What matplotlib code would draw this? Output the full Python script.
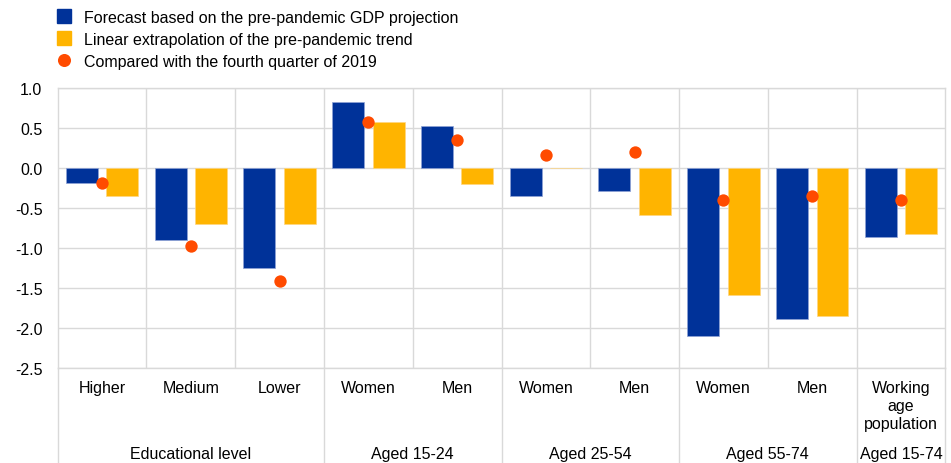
import matplotlib
matplotlib.use("Agg")
import matplotlib.pyplot as plt
from matplotlib.lines import Line2D
import numpy as np

plt.rcParams['font.family'] = ['Liberation Sans', 'DejaVu Sans']
plt.rcParams['font.size'] = 11.5

# 数据
categories = ['Higher', 'Medium', 'Lower', 'Women', 'Men', 'Women', 'Men',
              'Women', 'Men', 'Working\nage\npopulation']
groups = ['Educational level', 'Aged 15-24', 'Aged 25-54', 'Aged 55-74', 'Aged 15-74']
group_sizes = [3, 2, 2, 2, 1]
forecast = [-0.18, -0.90, -1.24, 0.83, 0.53, -0.34, -0.28, -2.10, -1.88, -0.86]
extrapolation = [-0.35, -0.69, -0.69, 0.58, -0.20, 0.01, -0.58, -1.58, -1.84, -0.82]
vs_2019q4 = [-0.18, -0.97, -1.41, 0.58, 0.36, 0.17, 0.20, -0.40, -0.34, -0.40]

legend_labels = ['Forecast based on the pre-pandemic GDP projection',
                 'Linear extrapolation of the pre-pandemic trend',
                 'Compared with the fourth quarter of 2019']

blue = '#003299'
yellow = '#FFB400'
orange = '#FF4B00'
grid_c = '#d9d9d9'

fig = plt.figure(figsize=(9.51, 4.64), dpi=100)
ax = fig.add_axes([0.0607, 0.204, 0.9333, 0.6035])

x = np.arange(len(categories))
bw = 0.36
off = 0.229
ax.bar(x - off, forecast, bw, color=blue, edgecolor='#8fa3d6', linewidth=0.5, zorder=3)
ax.bar(x + off, extrapolation, bw, color=yellow, edgecolor='#ffd680', linewidth=0.5, zorder=3)
ax.plot(x, vs_2019q4, 'o', color=orange, markersize=8.9, markeredgewidth=0, zorder=4)

ax.set_xlim(-0.5, len(categories) - 0.5)
ax.set_ylim(-2.5, 1.0)
ax.set_yticks(np.arange(-2.5, 1.01, 0.5))
ax.set_yticklabels(['%.1f' % v for v in np.arange(-2.5, 1.01, 0.5)])
ax.tick_params(axis='y', length=0, pad=11)
ax.set_xticks([])
ax.yaxis.grid(True, color=grid_c, linewidth=1, zorder=0)
for b in np.arange(0.5, len(categories) - 0.5, 1):
    ax.axvline(b, color=grid_c, linewidth=1, zorder=0)
for s in ax.spines.values():
    s.set_color(grid_c)
    s.set_linewidth(1)

# 类别标签
trans = ax.get_xaxis_transform()
for xi, lab in zip(x, categories):
    ax.text(xi, -0.040, lab, transform=trans, ha='center', va='top', linespacing=1.26)

# 分组标签与分隔线
start = -0.5
bounds = [start]
for name, n in zip(groups, group_sizes):
    ax.text(start + n / 2, -0.303, name, transform=trans, ha='center', va='center')
    start += n
    bounds.append(start)
for b in bounds:
    ax.add_line(Line2D([b, b], [0, -0.35], transform=trans, color=grid_c,
                       linewidth=1, clip_on=False))

# 图例
handles = [Line2D([], [], marker='s', linestyle='none', color=blue, markersize=9.4),
           Line2D([], [], marker='s', linestyle='none', color=yellow, markersize=9.4),
           Line2D([], [], marker='o', linestyle='none', color=orange, markersize=9.4,
                  markeredgewidth=0)]
fig.legend(handles, legend_labels, loc='upper left', bbox_to_anchor=(57 / 951, 1 - 10.5 / 464),
           frameon=False, borderpad=0, borderaxespad=0, handlelength=0.9,
           handletextpad=0.8, labelspacing=0.45)

fig.savefig('out.png', dpi=100)
